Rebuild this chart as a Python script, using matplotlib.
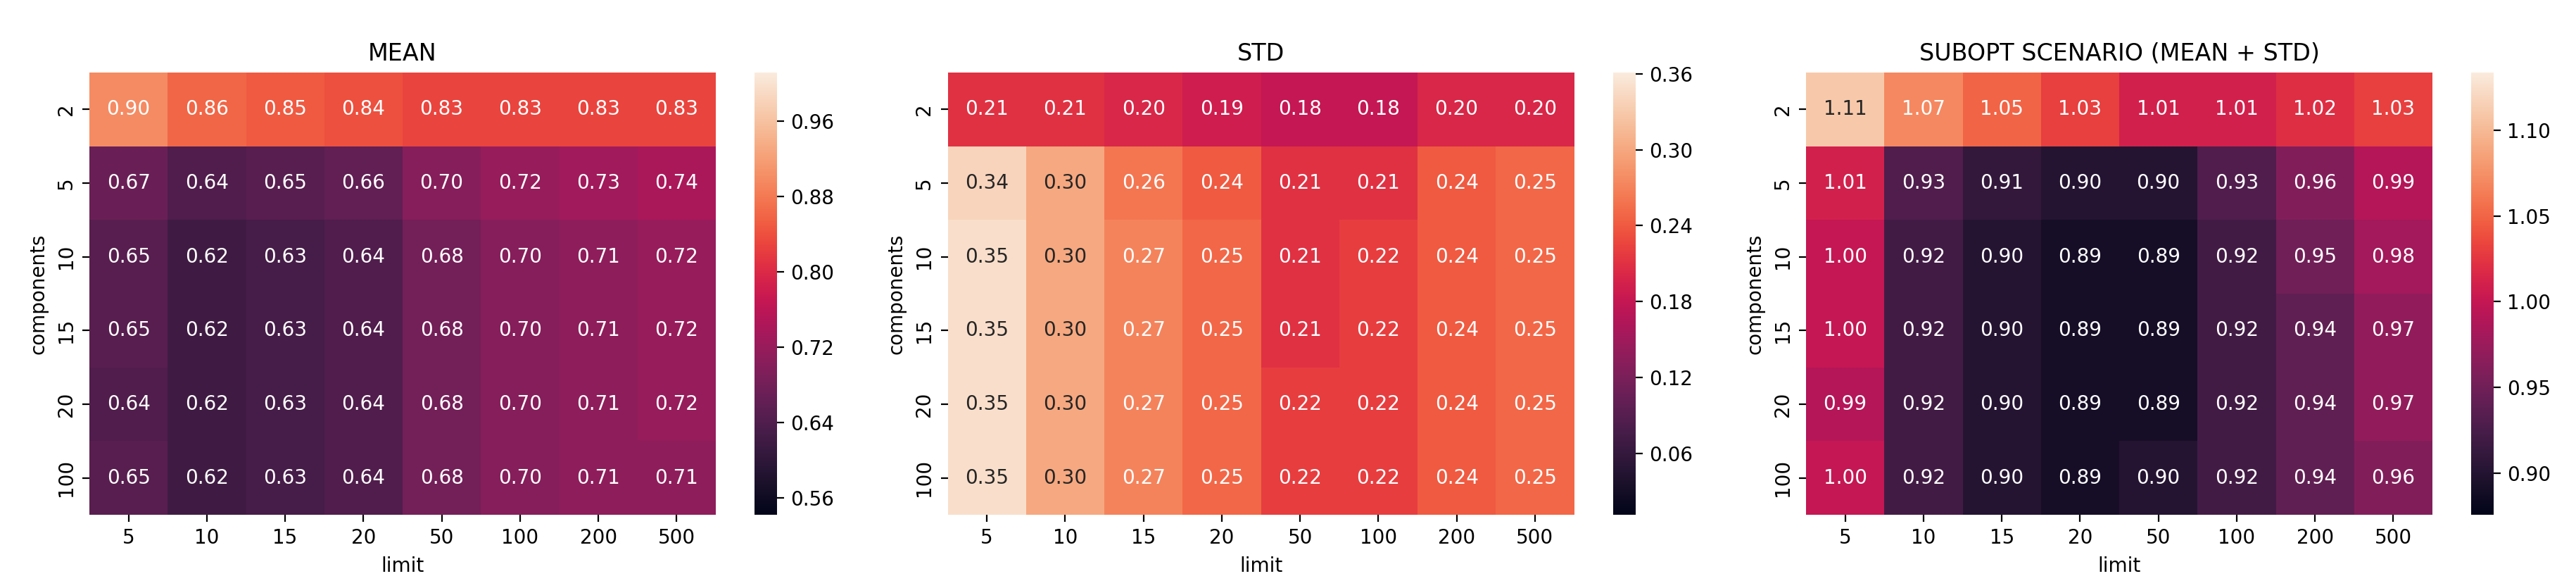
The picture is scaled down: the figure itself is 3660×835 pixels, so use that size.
import numpy as np
import pandas as pd
import seaborn as sns
import matplotlib
matplotlib.use('Agg')
import matplotlib.pyplot as plt

limits = [5, 10, 15, 20, 50, 100, 200, 500]
components = [2, 5, 10, 15, 20, 100]

mean_vals = [
    [0.90, 0.86, 0.85, 0.84, 0.83, 0.83, 0.83, 0.83],
    [0.67, 0.64, 0.65, 0.66, 0.70, 0.72, 0.73, 0.74],
    [0.65, 0.62, 0.63, 0.64, 0.68, 0.70, 0.71, 0.72],
    [0.65, 0.62, 0.63, 0.64, 0.68, 0.70, 0.71, 0.72],
    [0.64, 0.62, 0.63, 0.64, 0.68, 0.70, 0.71, 0.72],
    [0.65, 0.62, 0.63, 0.64, 0.68, 0.70, 0.71, 0.71],
]

std_vals = [
    [0.21, 0.21, 0.20, 0.19, 0.18, 0.18, 0.20, 0.20],
    [0.34, 0.30, 0.26, 0.24, 0.21, 0.21, 0.24, 0.25],
    [0.35, 0.30, 0.27, 0.25, 0.21, 0.22, 0.24, 0.25],
    [0.35, 0.30, 0.27, 0.25, 0.21, 0.22, 0.24, 0.25],
    [0.35, 0.30, 0.27, 0.25, 0.22, 0.22, 0.24, 0.25],
    [0.35, 0.30, 0.27, 0.25, 0.22, 0.22, 0.24, 0.25],
]

subopt_vals = [
    [1.11, 1.07, 1.05, 1.03, 1.01, 1.01, 1.02, 1.03],
    [1.01, 0.93, 0.91, 0.90, 0.90, 0.93, 0.96, 0.99],
    [1.00, 0.92, 0.90, 0.89, 0.89, 0.92, 0.95, 0.98],
    [1.00, 0.92, 0.90, 0.89, 0.89, 0.92, 0.94, 0.97],
    [0.99, 0.92, 0.90, 0.89, 0.89, 0.92, 0.94, 0.97],
    [1.00, 0.92, 0.90, 0.89, 0.90, 0.92, 0.94, 0.96],
]

titles = ['MEAN', 'STD', 'SUBOPT SCENARIO (MEAN + STD)']
# colour ranges
vranges = [(0.542, 1.012), (0.0115, 0.361), (0.8756, 1.1338)]
cbar_ticks = [
    [0.56, 0.64, 0.72, 0.80, 0.88, 0.96],
    [0.06, 0.12, 0.18, 0.24, 0.30, 0.36],
    [0.90, 0.95, 1.00, 1.05, 1.10],
]

W, H = 3660, 835
fig = plt.figure(figsize=(W / 200, H / 200), dpi=200)

for i, vals in enumerate([mean_vals, std_vals, subopt_vals]):
    df = pd.DataFrame(vals, index=components, columns=limits)
    x0 = 127 + 1219.5 * i
    ax = fig.add_axes([x0 / W, (H - 731) / H, 890 / W, 628 / H])
    cax = fig.add_axes([(x0 + 945) / W, (H - 731) / H, 32 / W, 628 / H])
    vmin, vmax = vranges[i]
    sns.heatmap(df, ax=ax, cbar_ax=cax, annot=True, fmt='.2f', vmin=vmin, vmax=vmax,
                cbar_kws=dict(ticks=cbar_ticks[i]))
    cax.set_yticklabels(['%.2f' % t for t in cbar_ticks[i]])
    plt.setp(ax.get_yticklabels(), rotation=90, va='center')
    plt.setp(ax.get_xticklabels(), rotation=0)
    ax.set_title(titles[i])
    ax.set_xlabel('limit')
    ax.set_ylabel('components')

fig.savefig('out.png', dpi=200)
